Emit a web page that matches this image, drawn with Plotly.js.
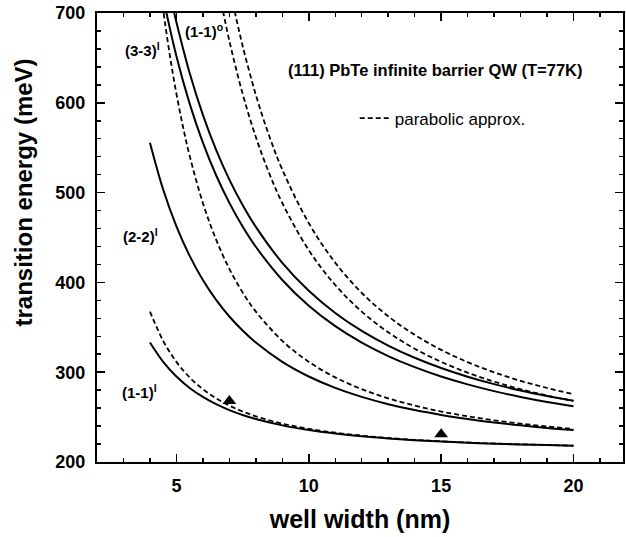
<!DOCTYPE html>
<html>
<head>
<meta charset="utf-8">
<script src="https://cdn.plot.ly/plotly-3.0.1.min.js"></script>
<style>html,body{margin:0;padding:0;background:#fff;}#chart{width:626px;height:537px;}</style>
</head>
<body>
<div id="chart"></div>
<script>
// well width (nm) sample points and transition energies (meV)
const xL = [4, 4.5, 5, 5.5, 6, 6.5, 7, 7.5, 8, 9, 10, 11, 12, 13, 14, 15, 16, 17, 18, 19, 20];
const e11lNonPar = [333, 311.5, 295.2, 282.5, 272.5, 264.4, 257.8, 252.4, 247.9, 240.8, 235.6, 231.7, 228.6, 226.2, 224.3, 222.8, 221.5, 220.4, 219.5, 218.8, 218.1];
const e11lPar = [367.5, 334.9, 311.5, 294.2, 281.1, 270.9, 262.8, 256.2, 250.9, 242.7, 236.9, 232.6, 229.3, 226.7, 224.7, 223.1, 221.7, 220.6, 219.7, 218.9, 218.2];
const e22lNonPar = [555.6, 503.4, 462.3, 429.5, 402.7, 380.6, 362.0, 346.4, 333.0, 311.5, 295.2, 282.5, 272.5, 264.4, 257.8, 252.4, 247.9, 244.0, 240.8, 238.0, 235.6];

const x22lPar = [4.4, 4.5, 4.75, 5, 5.25, 5.5, 6, 6.5, 7, 7.5, 8, 9, 10, 11, 12, 13, 14, 15, 16, 17, 18, 19, 20];
const e22lPar = [726, 703.5, 653.1, 610.1, 573.1, 541.0, 488.4, 447.6, 415.1, 388.9, 367.5, 334.9, 311.5, 294.2, 281.1, 270.9, 262.8, 256.2, 250.9, 246.4, 242.7, 239.6, 236.9];

const x33lNonPar = [4.5, 5, 5.5, 6, 6.5, 7, 7.5, 8, 9, 10, 11, 12, 13, 14, 15, 16, 17, 18, 19, 20];
const e33lNonPar = [716.9, 651.8, 599.1, 555.6, 519.3, 488.6, 462.3, 439.7, 402.7, 374.0, 351.3, 333.0, 318.0, 305.6, 295.2, 286.4, 278.9, 272.5, 266.9, 262.1];

const x11oNonPar = [4.9, 5, 5.5, 6, 6.5, 7, 7.5, 8, 9, 10, 11, 12, 13, 14, 15, 16, 17, 18, 19, 20];
const e11oNonPar = [702.5, 689.8, 633.2, 586.6, 547.6, 514.5, 486.2, 461.8, 421.8, 390.7, 366.0, 346.0, 329.7, 316.1, 304.7, 295.0, 286.7, 279.6, 273.5, 268.1];

const x33lPar = [6.7, 7, 7.5, 8, 8.5, 9, 10, 11, 12, 13, 14, 15, 16, 17, 18, 19, 20];
const e33lPar = [710.8, 669.0, 610.1, 561.9, 521.9, 488.4, 435.9, 397.1, 367.5, 344.5, 326.2, 311.5, 299.5, 289.5, 281.1, 274.0, 268.0];

const x11oPar = [7.2, 7.5, 8, 8.5, 9, 10, 11, 12, 13, 14, 15, 16, 17, 18, 19, 20];
const e11oPar = [702, 663.6, 608.9, 563.6, 525.6, 466.0, 421.9, 388.4, 362.3, 341.6, 324.9, 311.2, 299.9, 290.4, 282.4, 275.5];

const expWidth = [7, 15];
const expEnergy = [268, 231];

const FONT = "Liberation Sans, Arial, Helvetica, sans-serif";
const solid = {color: "#000", width: 2, shape: "spline", smoothing: 1};
const dashed = {color: "#000", width: 1.8, dash: "5px,3px", shape: "spline", smoothing: 1};

function tr(x, y, line, name, show) {
  return {x: x, y: y, type: "scatter", mode: "lines", line: line, name: name, showlegend: !!show, hoverinfo: "skip"};
}

const data = [
  tr(xL, e11lNonPar, solid, "(1-1)l"),
  tr(xL, e11lPar, dashed, "parabolic approx.", true),
  tr(xL, e22lNonPar, solid, "(2-2)l"),
  tr(x22lPar, e22lPar, dashed, "(2-2)l parabolic"),
  tr(x33lNonPar, e33lNonPar, solid, "(3-3)l"),
  tr(x11oNonPar, e11oNonPar, solid, "(1-1)o"),
  tr(x33lPar, e33lPar, dashed, "(3-3)l parabolic"),
  tr(x11oPar, e11oPar, dashed, "(1-1)o parabolic"),
  {x: expWidth, y: expEnergy, type: "scatter", mode: "markers", showlegend: false,
   marker: {symbol: "triangle-up", size: 12, color: "#000"}, name: "experiment"}
];

const axisCommon = {
  showline: true, linecolor: "#000", linewidth: 2, mirror: "ticks",
  ticks: "inside", ticklen: 8, tickwidth: 1.5, tickcolor: "#000",
  showgrid: false, zeroline: false,
  tickfont: {family: FONT, size: 18, color: "#000", weight: 700}
};

const layout = {
  width: 626, height: 537,
  margin: {l: 97, r: 3, t: 13, b: 75},
  paper_bgcolor: "#fff", plot_bgcolor: "#fff",
  xaxis: Object.assign({}, axisCommon, {
    range: [2, 21.87], tickvals: [5, 10, 15, 20], ticklabelstandoff: 6,
    minor: {ticks: "inside", dtick: 1, tick0: 0, ticklen: 4, tickcolor: "#000", tickwidth: 1.5},
    title: {text: "well width (nm)", font: {family: FONT, size: 25, color: "#000", weight: 700}, standoff: 16}
  }),
  yaxis: Object.assign({}, axisCommon, {
    range: [200, 700], tickvals: [200, 300, 400, 500, 600, 700], ticklabelstandoff: 6,
    minor: {ticks: "inside", dtick: 20, tick0: 0, ticklen: 4, tickcolor: "#000", tickwidth: 1.5}
  }),
  showlegend: true,
  legend: {x: 0.49, y: 0.765, xanchor: "left", yanchor: "middle", bgcolor: "rgba(0,0,0,0)",
           font: {family: FONT, size: 17, color: "#000"}},
  annotations: [
    {text: "transition energy (meV)", textangle: -90, xref: "paper", yref: "paper",
     x: -0.139, y: 0.6, xanchor: "center", yanchor: "middle", showarrow: false,
     font: {family: FONT, size: 24, color: "#000", weight: 700}},
    {text: "(111) PbTe infinite barrier QW (T=77K)", x: 14.75, y: 637, xref: "x", yref: "y",
     showarrow: false, font: {family: FONT, size: 16.5, color: "#000", weight: 700}},
    {text: "(3-3)<sup>l</sup>", x: 3.72, y: 659, xref: "x", yref: "y", showarrow: false,
     font: {family: FONT, size: 15, color: "#000", weight: 700}},
    {text: "(1-1)<sup>o</sup>", x: 6.05, y: 681, xref: "x", yref: "y", showarrow: false,
     font: {family: FONT, size: 15, color: "#000", weight: 700}},
    {text: "(2-2)<sup>l</sup>", x: 3.64, y: 452, xref: "x", yref: "y", showarrow: false,
     font: {family: FONT, size: 15, color: "#000", weight: 700}},
    {text: "(1-1)<sup>l</sup>", x: 3.6, y: 279, xref: "x", yref: "y", showarrow: false,
     font: {family: FONT, size: 15, color: "#000", weight: 700}}
  ]
};

Plotly.newPlot("chart", data, layout, {staticPlot: true, displayModeBar: false});
</script>
</body>
</html>
